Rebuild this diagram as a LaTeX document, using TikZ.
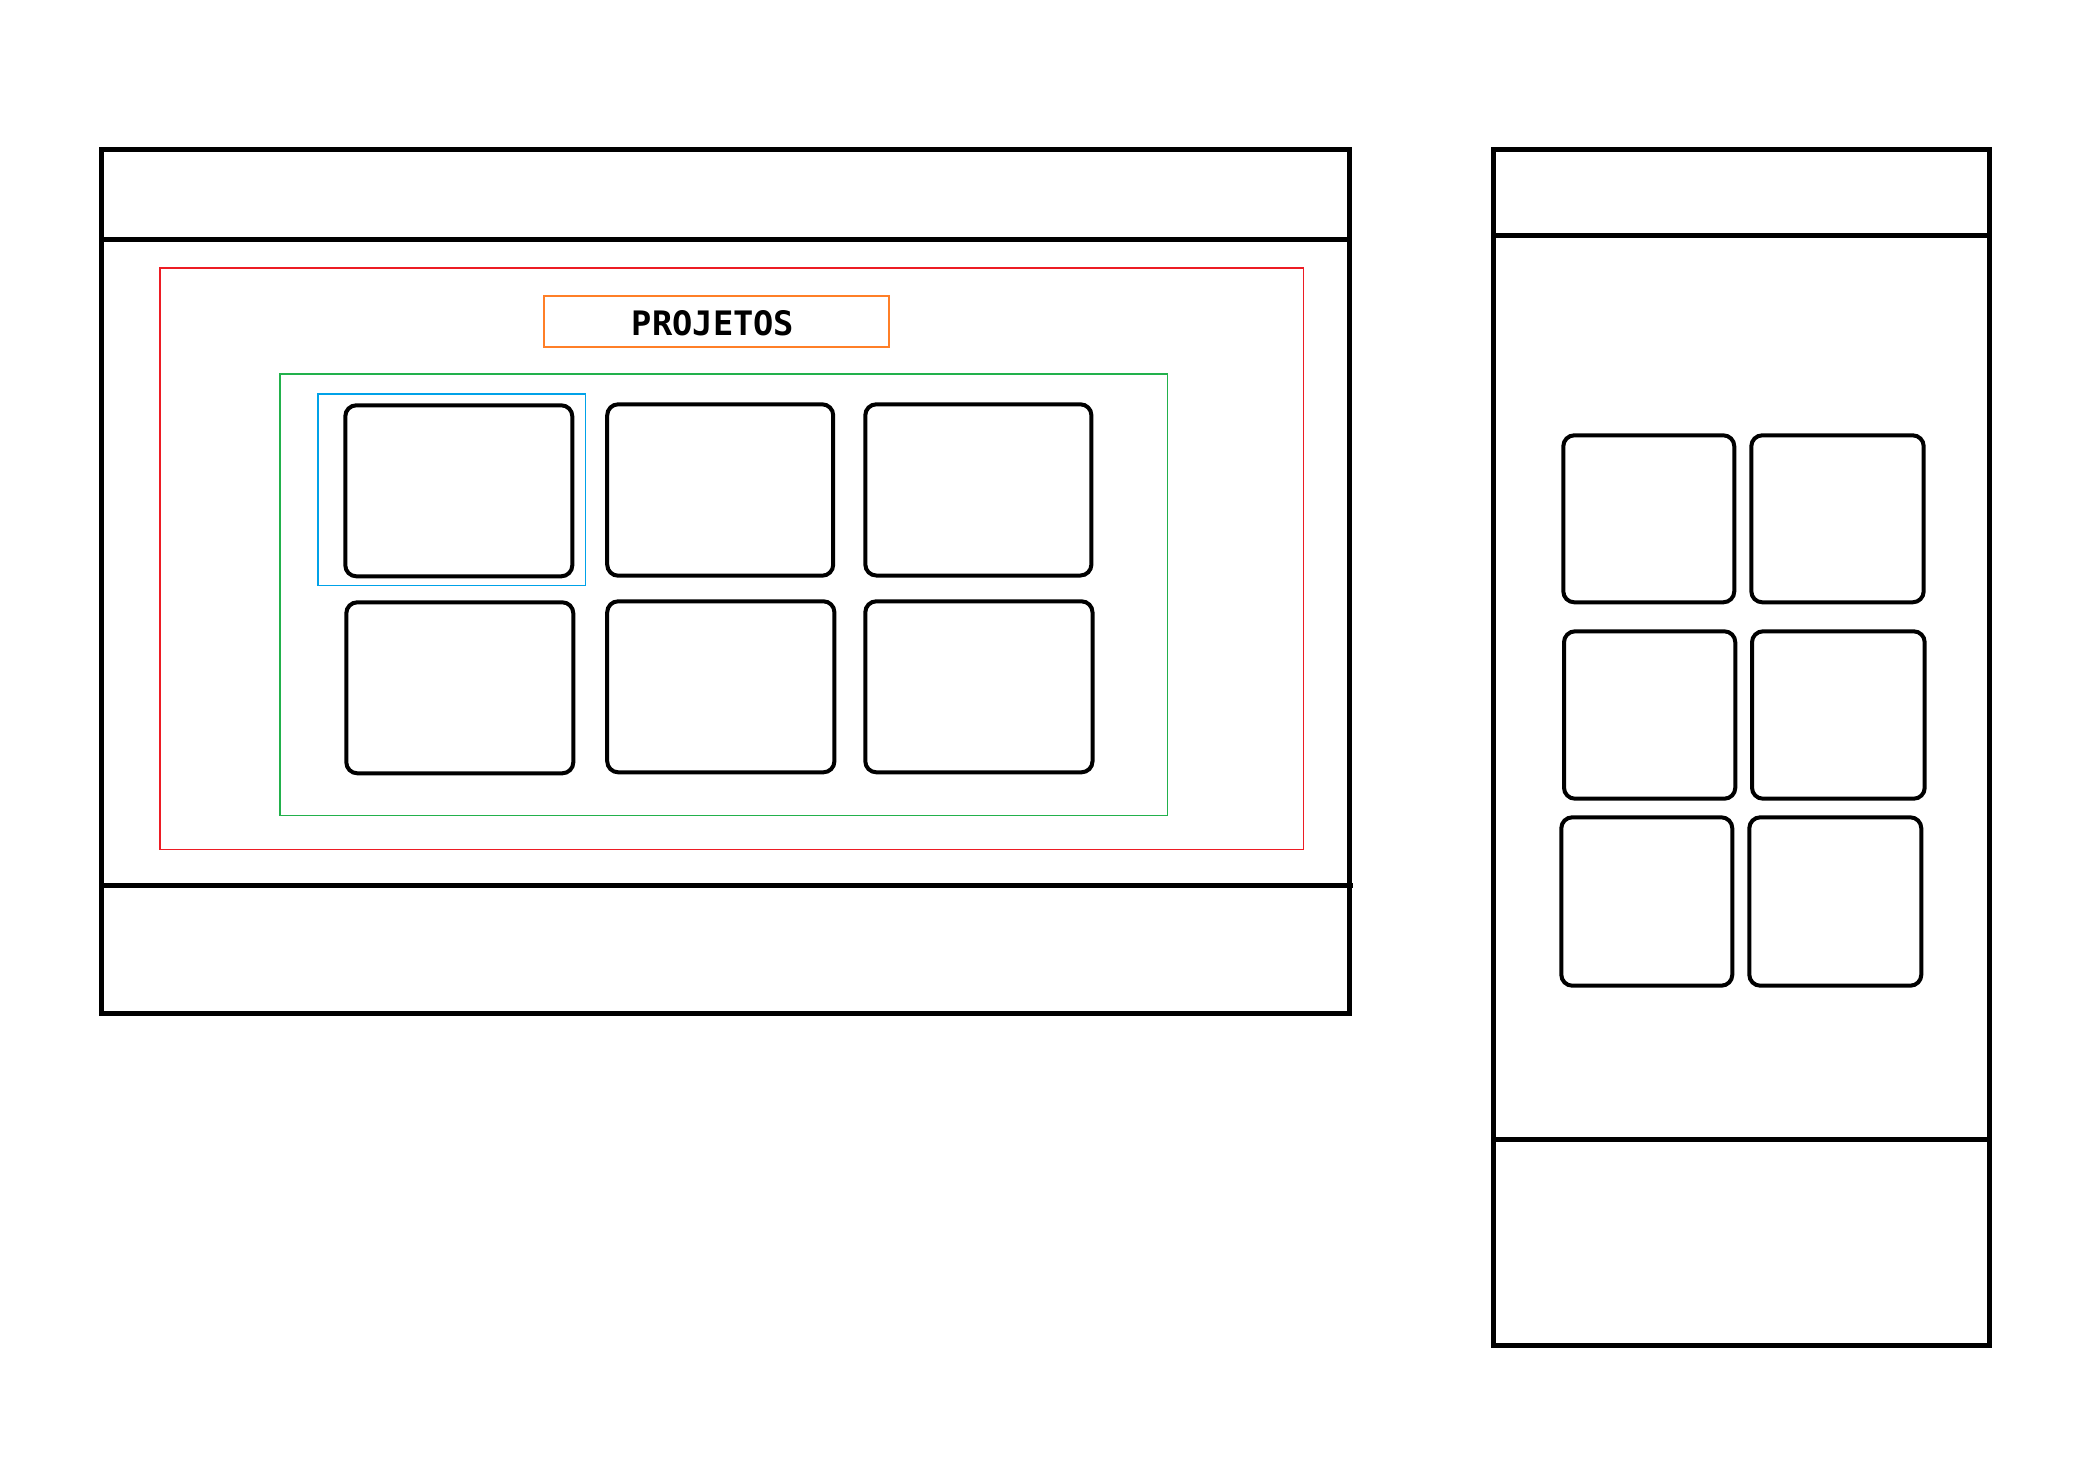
\documentclass[tikz,border=0pt]{standalone}
\usepackage{fontspec}
\newfontfamily\monob{DejaVu Sans Mono}
\definecolor{pred}{RGB}{237,28,36}
\definecolor{porange}{RGB}{255,127,39}
\definecolor{pgreen}{RGB}{34,177,76}
\definecolor{pblue}{RGB}{0,162,232}
\tikzset{
  frame/.style={draw=black, line width=5pt},
  divider/.style={draw=black, line width=5pt},
  card/.style={draw=black, line width=4pt, rounded corners=11pt},
  thinbox/.style={line width=1.3pt},
  title/.style={font=\monob\bfseries\fontsize{33.7}{40}\selectfont, inner sep=0pt, anchor=base}
}
\begin{document}
\begin{tikzpicture}[x=1pt,y=-1pt]
\useasboundingbox[fill=white] (0,0) rectangle (2096,1476);

% ---------- desktop wireframe ----------
\draw[frame] (101.5,149.5) rectangle (1349.5,1013.3);
\coordinate (dhl) at (101.5,239.5);
\coordinate (dhr) at (1349.5,239.5);
\draw[divider] (dhl) -- (dhr);
\coordinate (dfl) at (101.5,885.2);
\coordinate (dfr) at (1353,885.2);
\draw[divider] (dfl) -- (dfr);

\draw[thinbox, draw=pred] (160,268) rectangle (1303.8,849.8);
\draw[thinbox, draw=porange] (544,296) rectangle (889,347);
\node[title] (projetos) at (713,335.3) {PROJETOS};
\draw[thinbox, draw=pgreen] (280,374) rectangle (1167.8,815.8);
\draw[thinbox, draw=pblue] (318,394) rectangle (585.8,585.6);

\draw[card] (345.3,405.3) rectangle (572.3,576.3);
\draw[card] (607.2,404.3) rectangle (833.2,575.7);
\draw[card] (865.3,404.3) rectangle (1091.4,575.5);
\draw[card] (346.3,602.3) rectangle (573.3,773.3);
\draw[card] (607.2,601.3) rectangle (834.4,772.3);
\draw[card] (865.3,601.3) rectangle (1092.5,772.3);

% ---------- mobile wireframe ----------
\draw[frame] (1493.5,149.5) rectangle (1989.6,1345.3);
\coordinate (mhl) at (1493.5,235.3);
\coordinate (mhr) at (1989.6,235.3);
\draw[divider] (mhl) -- (mhr);
\coordinate (mfl) at (1493.5,1139.5);
\coordinate (mfr) at (1989.6,1139.5);
\draw[divider] (mfl) -- (mfr);

\draw[card] (1563.3,435.3) rectangle (1734.3,602.3);
\draw[card] (1751.3,435.3) rectangle (1923.7,602.3);
\draw[card] (1564,631.3) rectangle (1735.3,798.7);
\draw[card] (1752,631.3) rectangle (1924.7,798.7);
\draw[card] (1561.3,817.3) rectangle (1732.3,985.7);
\draw[card] (1749.3,817.3) rectangle (1921.3,985.7);
\end{tikzpicture}
\end{document}
